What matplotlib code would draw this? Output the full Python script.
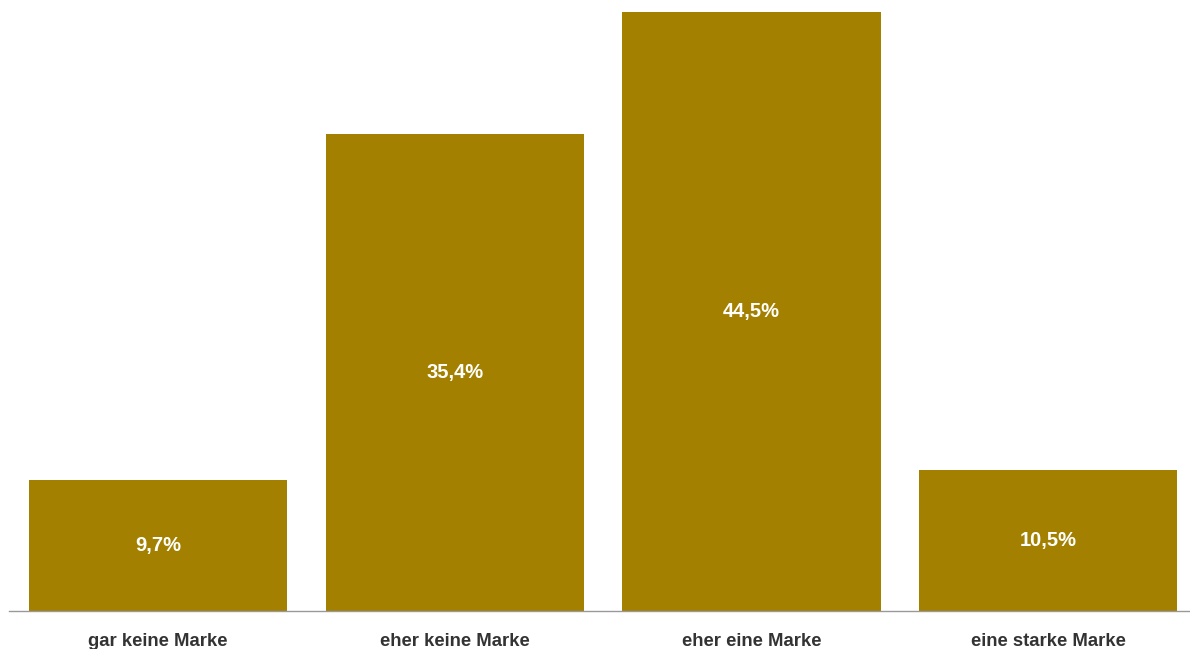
import matplotlib.pyplot as plt

categories = ['gar keine Marke', 'eher keine Marke', 'eher eine Marke', 'eine starke Marke']
values = [9.7, 35.4, 44.5, 10.5]
value_labels = ['9,7%', '35,4%', '44,5%', '10,5%']

plt.rcParams['font.family'] = ['Liberation Sans', 'DejaVu Sans']

fig = plt.figure(figsize=(11.9, 6.49), dpi=100)
ax = fig.add_axes([9 / 1190, 1 - 611 / 649, 1 - 9 / 1190, 599 / 649])

x = range(len(categories))
bars = ax.bar(x, values, width=0.87, color='#A38000')

for bar, lbl in zip(bars, value_labels):
    ax.text(bar.get_x() + bar.get_width() / 2, bar.get_height() / 2, lbl,
            ha='center', va='center', color='white', fontsize=14.5, fontweight='bold')

ax.set_xlim(-0.502, 3.478)
ax.set_ylim(0, 44.5)
ax.set_xticks(list(x))
ax.set_xticklabels(categories, fontsize=13.3, fontweight='bold', color='#333333')
ax.tick_params(axis='x', length=0, pad=16)
ax.set_yticks([])
for side in ['top', 'right', 'left']:
    ax.spines[side].set_visible(False)
ax.spines['bottom'].set_color('#999999')
ax.spines['bottom'].set_linewidth(1)

fig.savefig('out.png', dpi=100)
